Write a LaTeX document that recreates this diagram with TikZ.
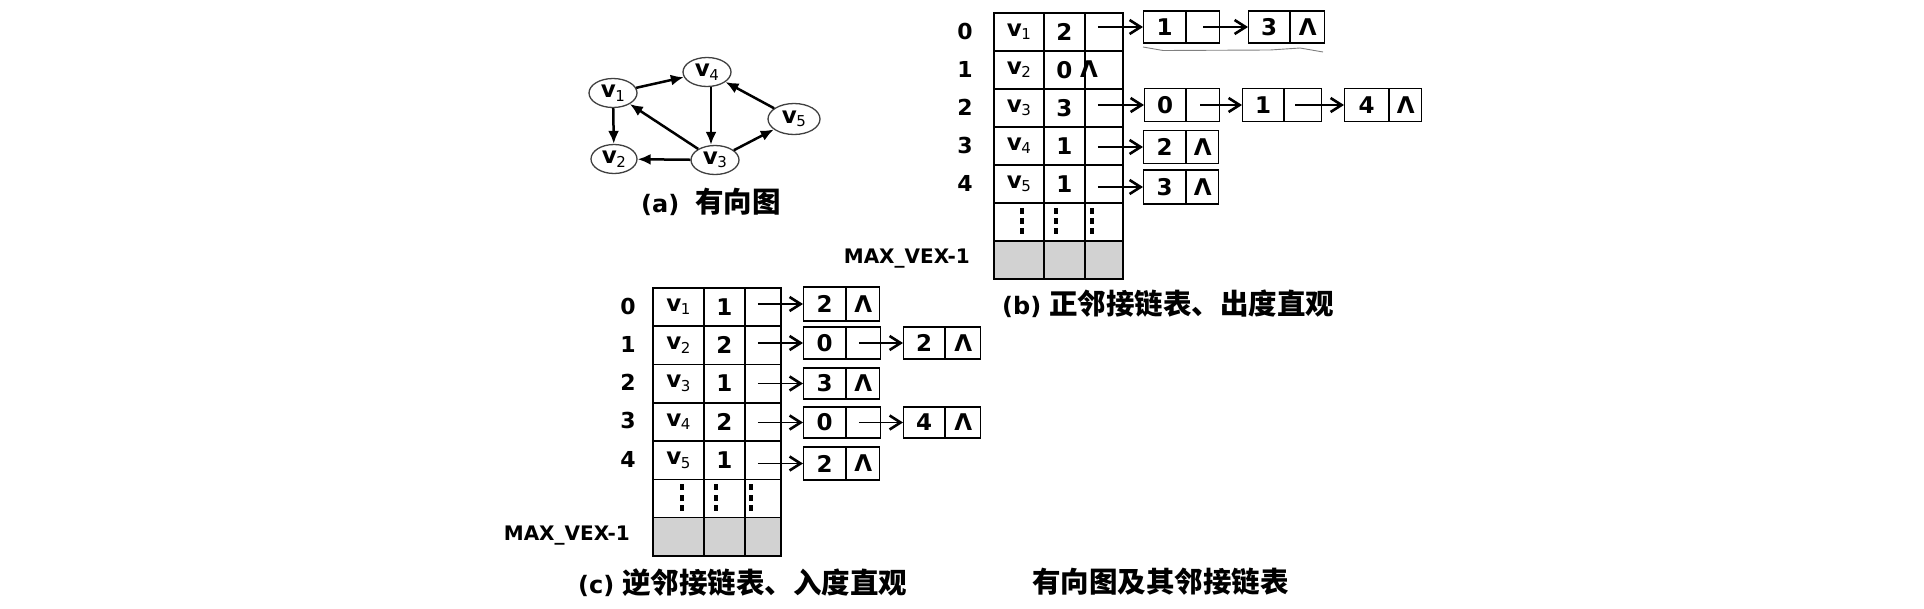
\documentclass[tikz,border=0pt]{standalone}
\usepackage{fontspec}
\setmainfont{DejaVu Sans}
\newfontfamily\cjk{Noto Sans CJK SC}
\usetikzlibrary{arrows.meta,shapes.geometric,calc}
\newcommand\vsub[1]{v\kern-0.5pt\raisebox{-3.5pt}{\fontsize{15}{15}\selectfont\mdseries #1}}
\newcommand\cjkcap[1]{{\cjk\fontsize{28.5}{28.5}\selectfont\bfseries #1}}
\tikzset{
  tcell/.style={draw, line width=1.6pt, inner sep=0pt, minimum height=38pt, anchor=north west,
    font=\fontsize{23}{23}\selectfont\bfseries},
  graycell/.style={tcell, fill=gray!35},
  idx/.style={inner sep=0pt, font=\fontsize{22}{22}\selectfont\bfseries},
  maxlab/.style={inner sep=0pt, anchor=east, font=\fontsize{20}{20}\selectfont\bfseries},
  ld/.style={draw, line width=1.2pt, inner sep=0pt, minimum width=42pt, minimum height=32pt,
    anchor=west, font=\fontsize{23}{23}\selectfont\bfseries},
  lp/.style={ld, minimum width=34pt},
  larr/.style={line width=1.9pt, -{Straight Barb[length=11pt,width=14pt,line width=2.6pt]}},
  vtx/.style={draw=black!75, line width=1.3pt, ellipse, inner sep=0pt, minimum width=48pt,
    minimum height=29pt, font=\fontsize{23}{23}\selectfont\bfseries},
  garr/.style={line width=2.5pt, -{Latex[length=13pt,width=11pt]}},
  captext/.style={inner sep=0pt, anchor=west, font=\fontsize{24}{24}\selectfont\bfseries},
  dotsq/.style={fill=black}
}
\begin{document}
\begin{tikzpicture}[x=1pt,y=-1pt]
\useasboundingbox (0,0) rectangle (1924,608);
\fill[white] (0,0) rectangle (1924,608);

% ---------------- (a) directed graph ----------------
\node[vtx] (v1) at (613,93) {\vsub{1}};
\node[vtx] (v4) at (707,72) {\vsub{4}};
\node[vtx, minimum width=46pt] (v2) at (614,159) {\vsub{2}};
\node[vtx] (v3) at (715,160) {\vsub{3}};
\node[vtx, minimum width=52pt, minimum height=31pt] (v5) at (794,119) {\vsub{5}};
\draw[garr] (v1) -- (v2);
\draw[garr] (v1) -- (v4);
\draw[garr] ([xshift=4pt]v4.south) -- ([xshift=-4pt]v3.north);
\draw[garr] (v3) -- (v1);
\draw[garr] (v3) -- (v2);
\draw[garr] (v3) -- (v5);
\draw[garr] (v5) -- (v4);
\node[captext] (capa) at (641,202) {(a)\hspace{16pt}\cjkcap{有向图}};

% ---------------- (b) out-adjacency list ----------------
\foreach \r/\t/\a/\b in {0/12/1/2, 1/50/2/0, 2/88/3/3, 3/126/4/1, 4/164/5/1}{
  \node[tcell, minimum width=50pt] (bA\r) at (993,\t) {\vsub{\a}};
  \node[tcell, minimum width=41pt] (bB\r) at (1043,\t) {\b};
  \node[tcell, minimum width=38pt] (bC\r) at (1084,\t) {};
  \node[idx] (bI\r) at (965,\t+19) {\r};
}
\node[tcell, minimum width=50pt] (bA5) at (993,202) {};
\node[tcell, minimum width=41pt] (bB5) at (1043,202) {};
\node[tcell, minimum width=38pt] (bC5) at (1084,202) {};
\node[graycell, minimum width=50pt] (bA6) at (993,240) {};
\node[graycell, minimum width=41pt] (bB6) at (1043,240) {};
\node[graycell, minimum width=38pt] (bC6) at (1084,240) {};
\node[maxlab] (bM) at (970,259) {MAX\_VEX-1};
\foreach \c/\dx in {A/3, B/-8.5, C/-12}{
  \foreach \dy in {-11,-0.5,9.5}{
    \fill[dotsq] ($(b\c5.center)+(\dx-2.2,\dy-3)$) rectangle ++(4.4,6);
  }
}
\node[idx, font=\fontsize{23}{23}\selectfont\bfseries] (bN1) at (1089,69) {Λ};

% row 0 list
\node[ld] (b0a) at (1143,27) {1};
\node[lp, minimum width=33pt] (b0ap) at (b0a.east) {};
\node[ld, minimum width=41pt] (b0b) at (1248,27) {3};
\node[lp] (b0bp) at (b0b.east) {Λ};
\draw[larr] ($(bC0.center |- b0a.west)+(-6,0)$) -- (b0a.west);
\draw[larr] (b0ap.center) -- (b0b.west);
\draw[gray, line width=0.9pt] (1143,47) -- (1163,50.5) -- (1270,50) -- (1300,48) -- (1323,52);
% row 2 list
\node[ld, minimum height=33pt, minimum width=41pt] (b2a) at (1144,105) {0};
\node[lp, minimum height=33pt, minimum width=33pt] (b2ap) at (b2a.east) {};
\node[ld, minimum height=33pt, minimum width=41pt] (b2b) at (1242,105) {1};
\node[lp, minimum height=33pt, minimum width=37pt] (b2bp) at (b2b.east) {};
\node[ld, minimum height=33pt, minimum width=44pt] (b2c) at (1344,105) {4};
\node[lp, minimum height=33pt, minimum width=32pt] (b2cp) at (b2c.east) {Λ};
\draw[larr] ($(bC2.center |- b2a.west)+(-6,0)$) -- (b2a.west);
\draw[larr] ($(b2ap.center)+(-3,0)$) -- (b2b.west);
\draw[larr] ($(b2bp.center)+(-8,0)$) -- (b2c.west);
% row 3 list
\node[ld, minimum height=33pt] (b3a) at (1143,147) {2};
\node[lp, minimum height=33pt, minimum width=32pt] (b3ap) at (b3a.east) {Λ};
\draw[larr] ($(bC3.center |- b3a.west)+(-6,0)$) -- (b3a.west);
% row 4 list
\node[ld, minimum height=34pt] (b4a) at (1143,187) {3};
\node[lp, minimum height=34pt, minimum width=32pt] (b4ap) at (b4a.east) {Λ};
\draw[larr] ($(bC4.center |- b4a.west)+(-6,0)$) -- (b4a.west);

\node[captext] (capb) at (1002,304) {(b)\hspace{8pt}\cjkcap{正邻接链表、出度直观}};

% ---------------- (c) in-adjacency list ----------------
\foreach \r/\a/\b in {0/1/1, 1/2/2, 2/3/1, 3/4/2, 4/5/1}{
  \node[tcell, minimum width=51pt, minimum height=38.3pt] (cA\r) at (652,287+38.3*\r) {\vsub{\a}};
  \node[tcell, minimum width=41pt, minimum height=38.3pt] (cB\r) at (703,287+38.3*\r) {\b};
  \node[tcell, minimum width=36pt, minimum height=38.3pt] (cC\r) at (744,287+38.3*\r) {};
  \node[idx] (cI\r) at (628,287+38.3*\r+19) {\r};
}
\node[tcell, minimum width=51pt, minimum height=38.3pt] (cA5) at (652,478.5) {};
\node[tcell, minimum width=41pt, minimum height=38.3pt] (cB5) at (703,478.5) {};
\node[tcell, minimum width=36pt, minimum height=38.3pt] (cC5) at (744,478.5) {};
\node[graycell, minimum width=51pt, minimum height=38.3pt] (cA6) at (652,516.8) {};
\node[graycell, minimum width=41pt, minimum height=38.3pt] (cB6) at (703,516.8) {};
\node[graycell, minimum width=36pt, minimum height=38.3pt] (cC6) at (744,516.8) {};
\node[maxlab] (cM) at (630,536) {MAX\_VEX-1};
\foreach \c/\dx in {A/3.5, B/-8.5, C/-12}{
  \foreach \dy in {-11,-0.5,9.5}{
    \fill[dotsq] ($(c\c5.center)+(\dx-2.2,\dy-3)$) rectangle ++(4.4,6);
  }
}
% row 0
\node[ld, minimum height=34pt] (c0a) at (803,304) {2};
\node[lp, minimum height=34pt, minimum width=33pt] (c0ap) at (c0a.east) {Λ};
\draw[larr] ($(cC0.center |- c0a.west)+(-5,0)$) -- (c0a.west);
% row 1
\node[ld] (c1a) at (803,343) {0};
\node[lp] (c1ap) at (c1a.east) {};
\node[ld, minimum width=41pt] (c1b) at (903,343) {2};
\node[lp, minimum width=35pt] (c1bp) at (c1b.east) {Λ};
\draw[larr] ($(cC1.center |- c1a.west)+(-5,0)$) -- (c1a.west);
\draw[larr] ($(c1ap.center)+(-5,0)$) -- (c1b.west);
% row 2
\node[ld, minimum height=31pt] (c2a) at (803,383.5) {3};
\node[lp, minimum height=31pt, minimum width=33pt] (c2ap) at (c2a.east) {Λ};
\draw[larr] ($(cC2.center |- c2a.west)+(-5,0)$) -- (c2a.west);
% row 3
\node[ld, minimum height=31pt] (c3a) at (803,422.5) {0};
\node[lp, minimum height=31pt] (c3ap) at (c3a.east) {};
\node[ld, minimum height=31pt, minimum width=41pt] (c3b) at (903,422.5) {4};
\node[lp, minimum height=31pt, minimum width=35pt] (c3bp) at (c3b.east) {Λ};
\draw[larr] ($(cC3.center |- c3a.west)+(-5,0)$) -- (c3a.west);
\draw[larr] ($(c3ap.center)+(-5,0)$) -- (c3b.west);
% row 4
\node[ld, minimum height=33pt] (c4a) at (803,463.5) {2};
\node[lp, minimum height=33pt, minimum width=33pt] (c4ap) at (c4a.east) {Λ};
\draw[larr] ($(cC4.center |- c4a.west)+(-5,0)$) -- (c4a.west);

\node[captext] (capc) at (578,583) {(c)\hspace{8pt}\cjkcap{逆邻接链表、入度直观}};

% ---------------- title ----------------
\node[captext] (title) at (1032,582) {\cjkcap{有向图及其邻接链表}};
\end{tikzpicture}
\end{document}
